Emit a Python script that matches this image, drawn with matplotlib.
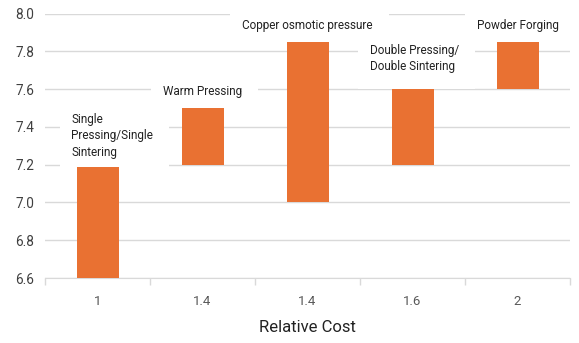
import matplotlib
matplotlib.use("Agg")
import matplotlib.pyplot as plt
from matplotlib.patches import Rectangle

# Data
categories = ["1", "1.4", "1.4", "1.6", "2"]
processes = ["Single\nPressing/Single\nSintering", "Warm Pressing", "Copper osmotic pressure",
             "Double Pressing/\nDouble Sintering", "Powder Forging"]
low_values = [6.6, 7.2, 7.0, 7.2, 7.6]
high_values = [7.19, 7.5, 7.85, 7.6, 7.85]
y_ticks = [6.6, 6.8, 7.0, 7.2, 7.4, 7.6, 7.8, 8.0]

# layout (pixel offsets for labels)
label_align = ["left", "center", "center", "left", "center"]
label_dx = [-5, 0, 0, -22, 0]      # px, relative to bar left edge (left) or centre
label_dy = [8, 10, 10, 16, 10]     # px above bar top
BAR_W = 0.4
PX = 0.72  # points per pixel at dpi 100

plt.rcParams['font.family'] = ['Roboto', 'DejaVu Sans']
fig = plt.figure(figsize=(5.79, 3.43), dpi=100)
ax = fig.add_axes([45/579, 1-278/343, (570-45)/579, (278-13.5)/343])

x = list(range(len(categories)))
heights = [h - l for h, l in zip(high_values, low_values)]
ax.bar(x, heights, bottom=low_values, width=BAR_W, color="#E97132", zorder=4)

ax.set_ylim(6.6, 8.0)
ax.set_xlim(-0.5, len(categories) - 0.5)
ax.set_yticks(y_ticks)
ax.set_yticklabels([f"{v:.1f}" for v in y_ticks])
ax.set_xticks(x)
ax.set_xticklabels(categories)
ax.set_xticks([i - 0.5 for i in range(len(categories) + 1)], minor=True)
ax.tick_params(axis='x', which='major', length=0, pad=12, labelsize=9.5, colors="#595959")
ax.tick_params(axis='x', which='minor', length=5, color="#d9d9d9", width=1)
ax.tick_params(axis='y', length=0, pad=8, labelsize=9.8, labelcolor="#404040")
ax.grid(axis='y', color="#d9d9d9", linewidth=1, zorder=0)
ax.set_axisbelow(True)
for s in ["left", "right", "top"]:
    ax.spines[s].set_visible(False)
ax.spines["bottom"].set_color("#d9d9d9")
ax.set_xlabel("Relative Cost", fontsize=12, color="#222222", labelpad=9)

texts = []
for i, (name, top) in enumerate(zip(processes, high_values)):
    ha = label_align[i]
    xanchor = i - BAR_W / 2 if ha == "left" else i
    t = ax.annotate(name, xy=(xanchor, top), xytext=(label_dx[i] * PX, label_dy[i] * PX),
                    textcoords="offset points", ha=ha, va="bottom", multialignment="left",
                    fontsize=8.5, color="#222222", linespacing=1.35, zorder=5)
    texts.append(t)

fig.canvas.draw()
renderer = fig.canvas.get_renderer()
inv = ax.transData.inverted()
for t, top in zip(texts, high_values):
    bb = t.get_window_extent(renderer)
    x0, y1 = inv.transform((bb.x0 - 12, bb.y1 + 8))
    x1, _ = inv.transform((bb.x1 + 16, bb.y1))
    rect = Rectangle((x0, top), x1 - x0, y1 - top, facecolor="white", edgecolor="none",
                     zorder=2, clip_on=False)
    ax.add_patch(rect)

fig.savefig("out.png", dpi=100)
